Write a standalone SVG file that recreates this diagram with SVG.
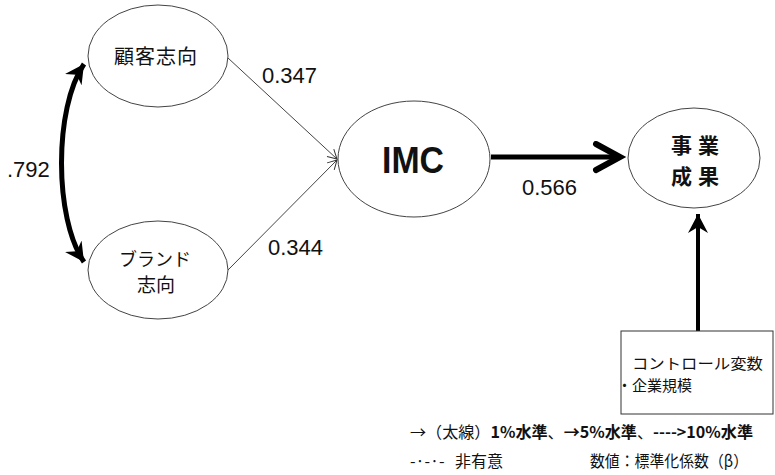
<svg xmlns="http://www.w3.org/2000/svg" width="775" height="475" viewBox="0 0 775 475">
<style>
.n{fill:#fff;stroke:#444;stroke-width:1}
.t{font-family:"Liberation Sans","Noto Sans CJK JP",sans-serif;fill:#111}
.j{font-family:"Noto Sans CJK JP","Liberation Sans",sans-serif;fill:#111}
</style>
<defs>
<marker id="open" markerWidth="12" markerHeight="12" refX="10" refY="6" orient="auto" markerUnits="userSpaceOnUse">
<path d="M1,1 L10,6 L1,11" fill="none" stroke="#333" stroke-width="1"/>
</marker>
<marker id="thick" markerWidth="36" markerHeight="36" refX="29" refY="16" orient="auto" markerUnits="userSpaceOnUse">
<path d="M5,3 L29,16 L5,29" fill="none" stroke="#000" stroke-width="6" stroke-linecap="round" stroke-linejoin="miter"/>
</marker>
<marker id="head" markerWidth="24" markerHeight="24" refX="19" refY="10" orient="auto-start-reverse" markerUnits="userSpaceOnUse">
<path d="M19,10 L0,0 L6,10 L0,20 Z" fill="#000"/>
</marker>
</defs>
<g id="connectors">
<line x1="228" y1="58" x2="337" y2="159" stroke="#444" stroke-width="1" marker-end="url(#open)"/>
<line x1="228" y1="270" x2="337" y2="160" stroke="#444" stroke-width="1" marker-end="url(#open)"/>
<line x1="491" y1="157" x2="620" y2="157" stroke="#000" stroke-width="5" marker-end="url(#thick)"/>
<path d="M84,64 C54,108 54,218 84,262" fill="none" stroke="#000" stroke-width="5" marker-start="url(#head)" marker-end="url(#head)"/>
<line x1="698" y1="331" x2="698" y2="214" stroke="#000" stroke-width="4" marker-end="url(#head)"/>
</g>
<g id="n1"><ellipse class="n" cx="158" cy="56" rx="70" ry="51"/><text class="j" x="156" y="64" font-size="20" text-anchor="middle" letter-spacing="1">顧客志向</text></g>
<g id="n2"><ellipse class="n" cx="158" cy="270" rx="70" ry="49"/><text class="j" x="155" y="266" font-size="18" text-anchor="middle">ブランド</text><text class="j" x="156" y="292" font-size="19" text-anchor="middle">志向</text></g>
<g id="n3"><ellipse class="n" cx="414" cy="159" rx="76" ry="58"/><text class="t" x="413" y="173" font-size="36" font-weight="bold" text-anchor="middle" textLength="62" lengthAdjust="spacingAndGlyphs">IMC</text></g>
<g id="n4"><ellipse class="n" cx="694" cy="158" rx="66" ry="50"/><text class="j" x="698" y="153" font-size="21" font-weight="bold" text-anchor="middle" letter-spacing="6">事業</text><text class="j" x="698" y="184" font-size="21" font-weight="bold" text-anchor="middle" letter-spacing="6">成果</text></g>
<g id="n5"><rect x="621" y="331" width="152" height="83" fill="#fff" stroke="#333" stroke-width="1"/><text class="j" x="632" y="369" font-size="15" textLength="131" lengthAdjust="spacingAndGlyphs">コントロール変数</text><text class="j" x="617" y="391" font-size="15">・企業規模</text></g>
<g id="labels">
<text class="t" x="262" y="83" font-size="22">0.347</text>
<text class="t" x="268" y="255" font-size="22">0.344</text>
<text class="t" x="522" y="195" font-size="22">0.566</text>
<text class="t" x="7" y="177" font-size="22">.792</text>
</g>
<g id="legend">
<text class="j" x="410" y="438" font-size="16" textLength="343" lengthAdjust="spacingAndGlyphs">→（太線）<tspan font-weight="bold">1%水準</tspan>、<tspan font-weight="bold">→5%水準</tspan>、<tspan font-weight="bold">----&gt;10%水準</tspan></text>
<text class="j" x="410" y="467" font-size="16">-·-·-</text>
<text class="j" x="455" y="467" font-size="16">非有意</text>
<text class="j" x="590" y="467" font-size="16" textLength="158" lengthAdjust="spacingAndGlyphs">数値：標準化係数（β）</text>
</g>
</svg>
